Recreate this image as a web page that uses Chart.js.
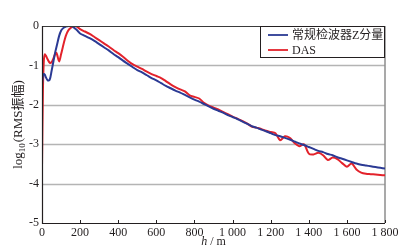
<!DOCTYPE html>
<html><head><meta charset="utf-8">
<script src="https://cdn.jsdelivr.net/npm/chart.js@4.4.1/dist/chart.umd.min.js"></script>
<style>html,body{margin:0;padding:0;background:#fff}#wrap{width:403px;height:249px;position:relative}</style>
</head><body><div id="wrap"><canvas id="c" width="403" height="249"></canvas></div>
<script>
const depth = [0,5,10,15,20,30,40,50,60,70,75,80,90,100,110,120,130,140,150,160,170,175,180,190,
200,225,250,275,300,325,350,375,400,425,450,475,500,525,550,575,600,625,650,675,700,725,750,775,800,825,850,875,900,925,950,975,
1000,1025,1050,1075,1100,1125,1150,1175,1200,1225,1250,1275,1300,1325,1350,1375,1400,1425,1450,1475,1500,1525,1550,1575,1600,1625,1650,1675,1700,1725,1750,1775,1800];
const geophoneZ = [-1.5,-1.25,-1.22,-1.24,-1.3,-1.38,-1.37,-1.15,-0.9,-0.65,-0.55,-0.45,-0.25,-0.12,-0.06,-0.03,-0.01,0,0,-0.01,-0.05,-0.07,-0.09,-0.14,
-0.19,-0.25,-0.31,-0.38,-0.46,-0.54,-0.62,-0.71,-0.79,-0.88,-0.96,-1.04,-1.12,-1.18,-1.25,-1.32,-1.38,-1.45,-1.52,-1.58,-1.64,-1.69,-1.75,-1.81,-1.87,-1.92,-1.98,-2.04,-2.1,-2.15,-2.2,-2.26,
-2.31,-2.36,-2.42,-2.48,-2.54,-2.58,-2.63,-2.67,-2.72,-2.77,-2.8,-2.84,-2.88,-2.93,-2.98,-3.02,-3.07,-3.12,-3.17,-3.2,-3.25,-3.28,-3.33,-3.37,-3.41,-3.45,-3.49,-3.52,-3.54,-3.56,-3.58,-3.6,-3.62];
const das = [-3.6,-1.6,-0.85,-0.72,-0.75,-0.85,-0.93,-0.92,-0.82,-0.7,-0.68,-0.74,-0.9,-0.72,-0.52,-0.33,-0.19,-0.1,-0.05,-0.02,0,0,-0.01,-0.04,
-0.08,-0.14,-0.2,-0.28,-0.36,-0.44,-0.52,-0.61,-0.69,-0.78,-0.88,-0.97,-1.03,-1.09,-1.16,-1.22,-1.27,-1.32,-1.4,-1.48,-1.55,-1.61,-1.66,-1.76,-1.8,-1.84,-1.95,-2.02,-2.07,-2.12,-2.18,-2.24,
-2.3,-2.35,-2.41,-2.47,-2.55,-2.58,-2.61,-2.66,-2.69,-2.72,-2.9,-2.8,-2.84,-2.97,-3.05,-3.0,-3.24,-3.26,-3.22,-3.28,-3.4,-3.34,-3.38,-3.48,-3.57,-3.49,-3.64,-3.72,-3.75,-3.76,-3.77,-3.78,-3.79];
const seriesNames = ['常规检波器Z分量','DAS'];
const seriesColors = ['#2b3a94','#e3222b'];
const xTicks = [0,200,400,600,800,1000,1200,1400,1600,1800];
const yTicks = [0,-1,-2,-3,-4,-5];

const SERIF = '"Liberation Serif","Times New Roman","Noto Sans CJK SC",serif';
const TXT = '#231f20';

function fmt(v){ const s=String(Math.abs(v)); const t = s.length>3 ? s.slice(0,s.length-3)+' '+s.slice(s.length-3) : s; return (v<0?'-':'')+t; }

const extras = {
  id:'extras',
  beforeDatasetsDraw(chart){
    const {ctx, chartArea:a, scales:{x,y}} = chart;
    ctx.save();
    ctx.strokeStyle='#b4b4b4'; ctx.lineWidth=1.5;
    yTicks.forEach(v=>{ if(v===0||v===-5) return; const py=Math.round(y.getPixelForValue(v))+0.5; ctx.beginPath(); ctx.moveTo(a.left,py); ctx.lineTo(a.right,py); ctx.stroke(); });
    ctx.strokeStyle='#8c8c8c'; ctx.lineWidth=1.5;
    ctx.beginPath(); ctx.moveTo(a.right,a.top); ctx.lineTo(a.right,a.bottom); ctx.stroke();
    ctx.restore();
  },
  afterDatasetsDraw(chart){
    const {ctx, chartArea:a, scales:{x,y}} = chart;
    ctx.save();
    ctx.strokeStyle='#3a3a3a'; ctx.lineWidth=1;
    ctx.beginPath(); ctx.moveTo(a.left,a.top+0.5); ctx.lineTo(a.right,a.top+0.5); ctx.stroke();
    ctx.strokeStyle='#231f20'; ctx.lineWidth=1.2;
    ctx.beginPath(); ctx.moveTo(a.left+0.5,a.top); ctx.lineTo(a.left+0.5,a.bottom+0.5); ctx.lineTo(a.right,a.bottom+0.5); ctx.stroke();
    ctx.lineWidth=1;
    xTicks.forEach(v=>{ const px=Math.round(x.getPixelForValue(v))+0.5; ctx.beginPath(); ctx.moveTo(px,a.bottom); ctx.lineTo(px,a.bottom-3); ctx.stroke(); });
    // legend
    const lx=260, ly=a.top, lw=a.right-260, lh=32;
    ctx.fillStyle='#fff'; ctx.fillRect(lx,ly,lw,lh);
    ctx.strokeStyle='#231f20'; ctx.lineWidth=1;
    ctx.strokeRect(lx+0.5,ly+0.5,lw-1,lh-1);
    ctx.font='12px '+SERIF; ctx.textBaseline='middle'; ctx.textAlign='left'; ctx.fillStyle=TXT;
    seriesNames.forEach((n,i)=>{ const yy=ly+9+i*15; ctx.strokeStyle=seriesColors[i]; ctx.lineWidth=1.8; ctx.beginPath(); ctx.moveTo(lx+8,yy); ctx.lineTo(lx+28,yy); ctx.stroke(); ctx.fillText(n,lx+32,yy+0.5); });
    // x title
    ctx.textAlign='left'; ctx.textBaseline='alphabetic';
    ctx.font='italic 12px '+SERIF; const w1=ctx.measureText('h').width;
    ctx.font='12px '+SERIF; const w2=ctx.measureText(' / m').width;
    let sx=(a.left+a.right)/2 - (w1+w2)/2; const by=245;
    ctx.font='italic 12px '+SERIF; ctx.fillText('h',sx,by);
    ctx.font='12px '+SERIF; ctx.fillText(' / m',sx+w1,by);
    // y title
    ctx.translate(18,(a.top+a.bottom)/2); ctx.rotate(-Math.PI/2);
    ctx.font='13px '+SERIF; const p1='log'; const wa=ctx.measureText(p1).width;
    ctx.font='9px '+SERIF; const wb=ctx.measureText('10').width;
    ctx.font='13px '+SERIF; const p3='(RMS振幅)'; const wc=ctx.measureText(p3).width;
    let tx=-(wa+wb+wc+1)/2;
    ctx.textBaseline='alphabetic';
    ctx.font='13px '+SERIF; ctx.fillText(p1,tx,4);
    ctx.font='9px '+SERIF; ctx.fillText('10',tx+wa,7);
    ctx.font='13px '+SERIF; ctx.fillText(p3,tx+wa+wb+1,4);
    ctx.restore();
  }
};

new Chart(document.getElementById('c'), {
  type:'line',
  data:{ datasets:[
    {label:seriesNames[0], data:depth.map((h,i)=>({x:h,y:geophoneZ[i]})), borderColor:seriesColors[0], borderWidth:2, pointRadius:0, tension:0.3, fill:false},
    {label:seriesNames[1], data:depth.map((h,i)=>({x:h,y:das[i]})), borderColor:seriesColors[1], borderWidth:2, pointRadius:0, tension:0.3, fill:false}
  ]},
  options:{
    responsive:false, animation:false, devicePixelRatio:1,
    layout:{padding:{top:26,right:18,left:0,bottom:0}},
    plugins:{legend:{display:false}, tooltip:{enabled:false}},
    scales:{
      x:{type:'linear', min:0, max:1800, afterBuildTicks:s=>{s.ticks=xTicks.map(v=>({value:v}));},
        grid:{display:false, drawTicks:false, tickLength:0}, border:{display:false},
        ticks:{font:{family:SERIF,size:12}, color:TXT, padding:3, maxRotation:0, callback:v=>fmt(v)},
        afterFit:s=>{s.height=26;}},
      y:{type:'linear', min:-5, max:0, afterBuildTicks:s=>{s.ticks=yTicks.map(v=>({value:v}));},
        grid:{display:false, drawTicks:false, tickLength:0}, border:{display:false},
        ticks:{font:{family:SERIF,size:12}, color:TXT, padding:3, callback:v=>fmt(v)},
        afterFit:s=>{s.width=42;}}
    }
  },
  plugins:[extras]
});
</script></body></html>
